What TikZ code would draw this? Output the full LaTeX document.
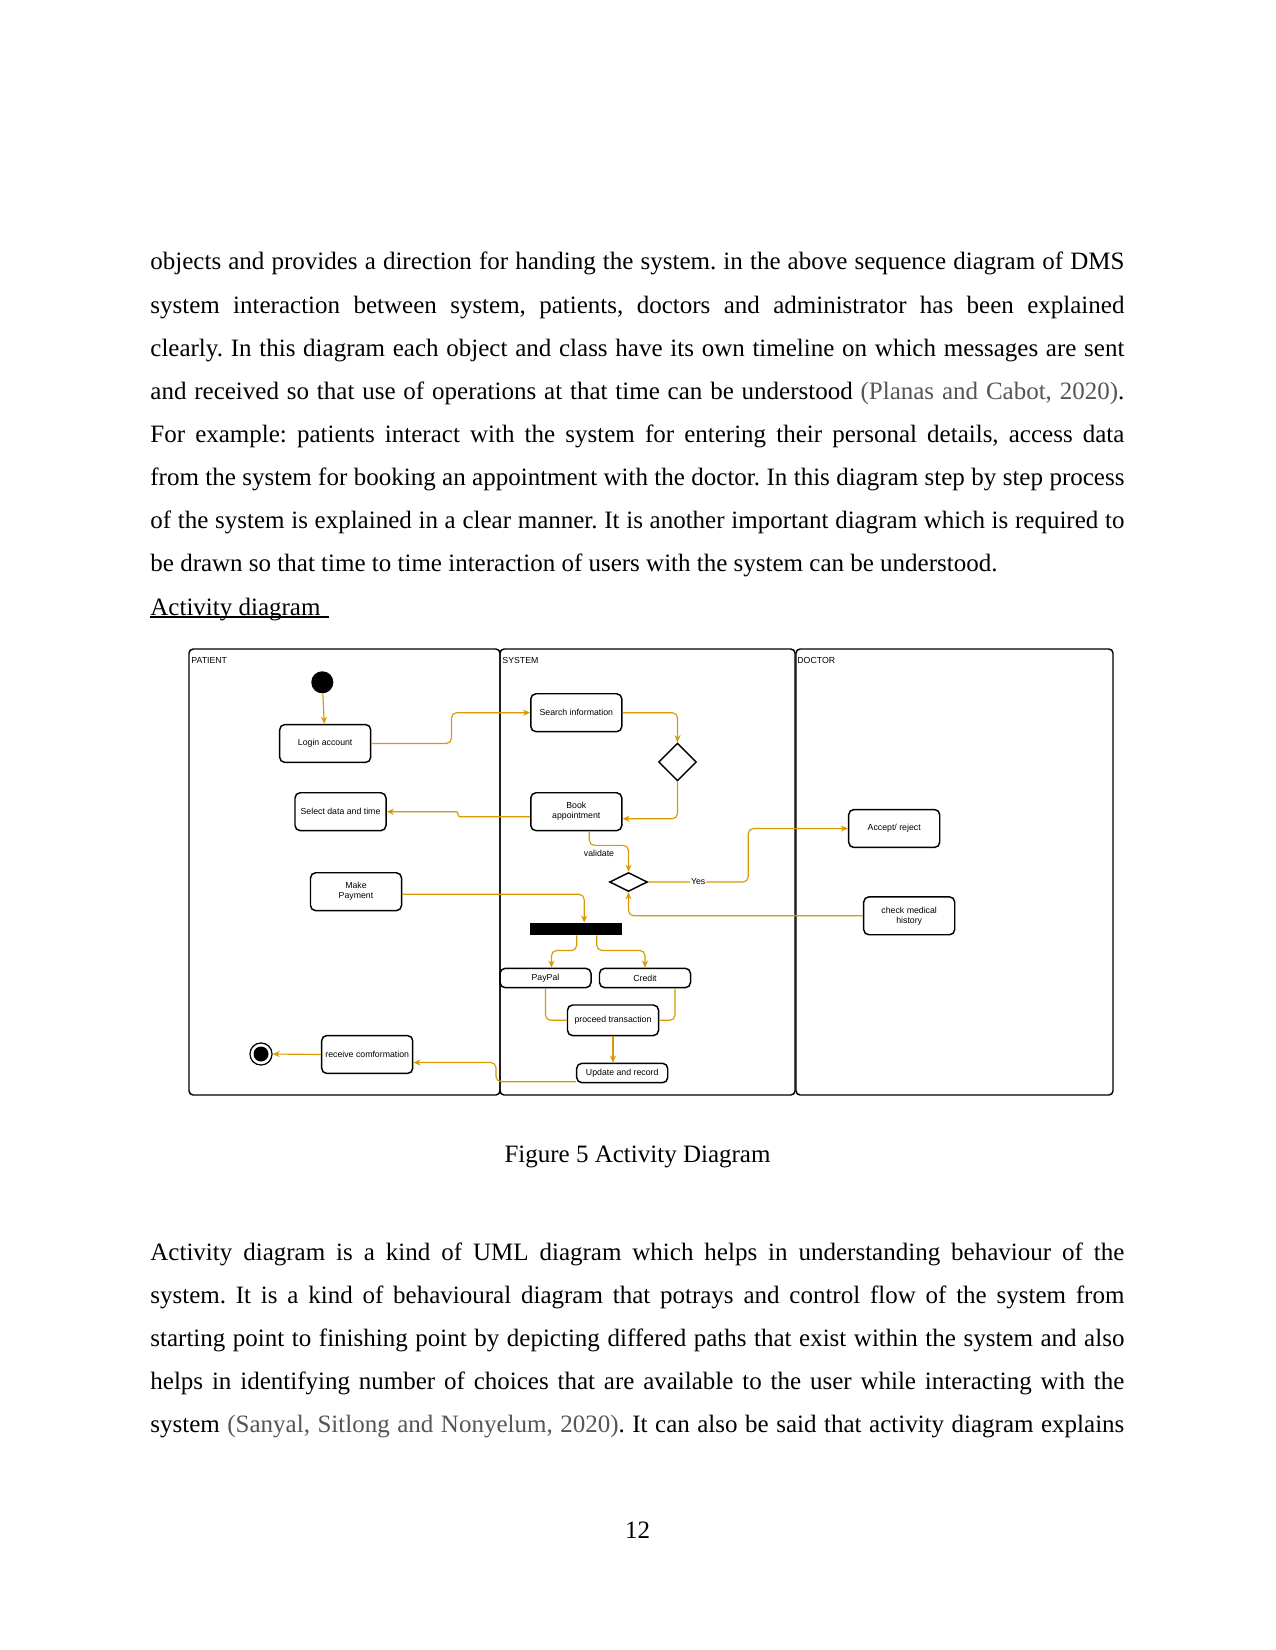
\documentclass[tikz,border=0pt]{standalone}
\usepackage{fontspec}
\setmainfont{Liberation Serif}
\newfontfamily\diagfont{Liberation Sans}
\usetikzlibrary{arrows.meta,positioning,calc,shapes.geometric}
\definecolor{flow}{HTML}{D79B00}
\definecolor{cite}{HTML}{555555}
\frenchspacing

\begin{document}
\begin{tikzpicture}[
  x=0.48pt, y=-0.48pt,
  >={Stealth[length=3.4pt, width=2.9pt]},
  para/.style={anchor=base west, inner sep=0pt, text width=467.5pt, align=justify, font=\fontsize{12pt}{20.7pt}\selectfont},
  plain/.style={inner sep=0pt, font=\fontsize{12pt}{14pt}\selectfont},
  lane/.style={draw, line width=0.7pt, rounded corners=2pt},
  lanelabel/.style={anchor=west, inner sep=0pt, font=\diagfont\fontsize{4.2pt}{5pt}\selectfont},
  activity/.style={draw, line width=0.7pt, rounded corners=2.5pt, minimum width=43.7pt, minimum height=18.2pt, inner sep=0.5pt, align=center, font=\diagfont\fontsize{4.2pt}{4.8pt}\selectfont},
  slim/.style={activity, minimum height=9.3pt},
  decision/.style={diamond, draw, line width=0.7pt, inner sep=0pt, minimum width=18.2pt, minimum height=18.2pt},
  bar/.style={fill=black, inner sep=0pt, minimum width=44.3pt, minimum height=5.8pt},
  initial/.style={circle, fill=black, inner sep=0pt, minimum size=10.6pt},
  final/.style={circle, draw, line width=0.6pt, inner sep=0pt, minimum size=10.6pt, path picture={\fill (path picture bounding box.center) circle (3.6pt);}},
  flowline/.style={draw=flow, line width=0.55pt, rounded corners=2.5pt},
  flowarrow/.style={flowline, ->},
  lbl/.style={inner sep=0.5pt, font=\diagfont\fontsize{4.2pt}{5pt}\selectfont},
]
\fill[white] (0,0) rectangle (1275,1650);

% Page text above the figure
\node[para] (intro) at (150,270) {objects and provides a direction for handing the system. in the above sequence diagram of DMS\linebreak
system interaction between system, patients, doctors and administrator has been explained\linebreak
clearly. In this diagram each object and class have its own timeline on which messages are sent\linebreak
and received so that use of operations at that time can be understood {\color{cite}(Planas and Cabot, 2020)}.\linebreak
For example: patients interact with the system for entering their personal details, access data\linebreak
from the system for booking an appointment with the doctor. In this diagram step by step process\linebreak
of the system is explained in a clear manner. It is another important diagram which is required to\linebreak
be drawn so that time to time interaction of users with the system can be understood.};
\node[plain, anchor=base west] (heading) at (150,615) {Activity diagram\kern4pt};
\draw[line width=0.6pt] ($(heading.base west)+(0,2)$) -- ($(heading.base east)+(0,2)$);

% Swim lanes
\draw[lane] (189,649) rectangle (500,1095);
\draw[lane] (500,649) rectangle (795,1095);
\draw[lane] (796,649) rectangle (1113,1095);
\node[lanelabel] (lpatient) at (191,660) {PATIENT};
\node[lanelabel] (lsystem)  at (502,660) {SYSTEM};
\node[lanelabel] (ldoctor)  at (797,660) {DOCTOR};

% Patient lane
\node[initial]  (start)   at (322.3,682.3) {};
\node[activity] (login)   at (325.2,743.5) {Login account};
\node[activity] (select)  at (340.5,811.7) {Select data and time};
\node[activity] (payment) at (356,891.7)   {Make\\Payment};
\node[activity] (receive) at (367.2,1054.5) {receive comformation};
\node[final]    (finish)  at (261,1054)    {};

% System lane
\node[activity] (search)  at (576.3,712.7) {Search information};
\node[decision] (check)   at (677.5,762)   {};
\node[activity] (book)    at (576.3,811.7) {Book\\appointment};
\node[decision, minimum height=9.1pt] (valid) at (628.5,882) {};
\node[bar]      (fork)    at (576.2,929)   {};
\node[slim]     (paypal)  at (545.5,978)   {PayPal};
\node[slim]     (credit)  at (645,978)     {Credit};
\node[activity, minimum height=14.7pt] (proceed) at (613,1020.3) {proceed transaction};
\node[slim]     (update)  at (622.2,1073)  {Update and record};

% Doctor lane
\node[activity] (accept)  at (894.2,828.5) {Accept/ reject};
\node[activity] (history) at (909.2,915.8) {check medical\\history};

% Flows
\draw[flowarrow] (start) -- (login);
\draw[flowarrow] (login.east) -- ++(80,0) |- (search.west);
\draw[flowarrow] (search.east) -| (check.north);
\draw[flowarrow] (check.south) |- ($(book.east)+(0,7)$);
\draw[flowarrow, rounded corners=1pt] ($(book.west)+(0,5)$) -- ++(-72,0) |- (select.east);
\draw[flowarrow] ($(book.south)+(13,0)$) -- ++(0,14) -| (valid.north);
\node[lbl] (validate) at (599,853) {validate};
\draw[flowarrow] (valid.east) -- node[lbl, fill=white] (yes) {Yes} ++(100,0) |- (accept.west);
\draw[flowarrow] (history.west) -| (valid.south);
\draw[flowarrow] ($(payment.east)+(0,2.6)$) -| ($(fork.north)+(8,0)$);
\draw[flowarrow] ($(fork.south)+(0.5,0)$) -- ++(0,15) -| ($(paypal.north)+(6,0)$);
\draw[flowarrow] ($(fork.south)+(20.5,0)$) -- ++(0,15) -| (credit.north);
\draw[flowline] (paypal.south) |- (proceed.west);
\draw[flowline] ($(credit.south)+(30,0)$) |- (proceed.east);
\draw[flowarrow] (proceed.south) -- (proceed.south |- update.north);
\coordinate (jog) at (496,1072);
\draw[flowarrow] ($(update.west)+(0,8.7)$) -| (jog) |- ($(receive.east)+(0,8)$);
\draw[flowarrow] (receive.west) -- (finish.east);

% Caption, text below and page number
\node[plain, anchor=base] (caption) at (637.5,1162) {Figure 5 Activity Diagram};
\node[para] (body) at (150,1260) {Activity diagram is a kind of UML diagram which helps in understanding behaviour of the\linebreak
system. It is a kind of behavioural diagram that potrays and control flow of the system from\linebreak
starting point to finishing point  by depicting differed paths that exist within the system and also\linebreak
helps in identifying number of choices that are available to the user while interacting with the\linebreak
system {\color{cite}(Sanyal, Sitlong and  Nonyelum, 2020)}. It can also be said that activity diagram explains{\parfillskip=0pt\par}};
\node[plain, anchor=base] (pagenum) at (637.5,1538) {12};
\end{tikzpicture}
\end{document}
